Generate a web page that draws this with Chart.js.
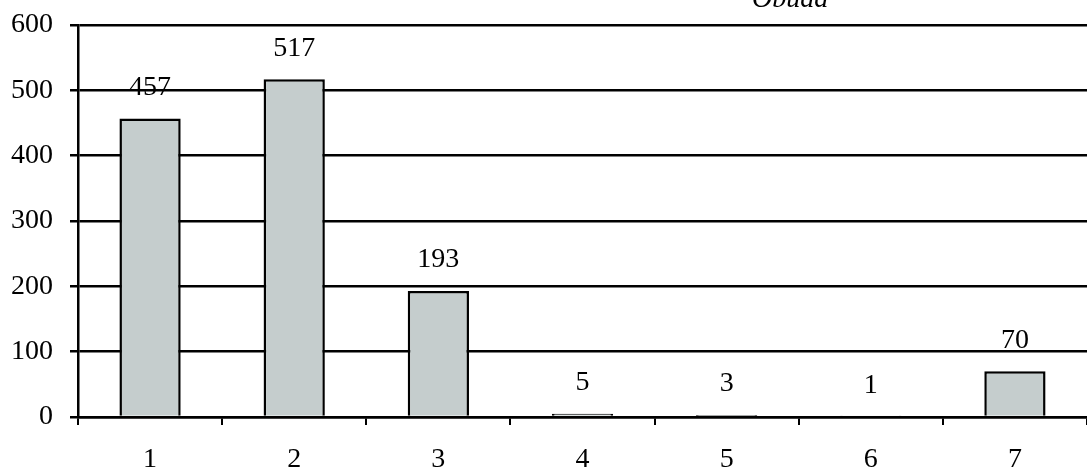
<!DOCTYPE html>
<html>
<head>
<meta charset="utf-8">
<title>Óbuda</title>
<script src="https://cdn.jsdelivr.net/npm/chart.js@4.4.1/dist/chart.umd.min.js"></script>
<style>
    html, body { margin: 0; padding: 0; background: #fff; overflow: hidden; }
    #wrap { position: relative; width: 1087px; height: 469px; overflow: hidden; }
    #title {
        position: absolute; left: 752px; top: -18px; line-height: 32px;
        font: italic 28px "Liberation Serif", serif; color: #000;
    }
    canvas { position: absolute; left: 0; top: 0; }
</style>
</head>
<body>
<div id="wrap">
    <canvas id="chart" width="1087" height="469"></canvas>
    <div id="title">Óbuda</div>
</div>
<script>
// Chart data
const categories = ['1', '2', '3', '4', '5', '6', '7'];
const values = [457, 517, 193, 5, 3, 1, 70];
const yTicks = [0, 100, 200, 300, 400, 500, 600];

const serif = '"Liberation Serif", "Times New Roman", serif';

// Draw the value above each bar
const valueLabels = {
    id: 'valueLabels',
    afterDatasetsDraw(chart) {
        const ctx = chart.ctx;
        const meta = chart.getDatasetMeta(0);
        ctx.save();
        ctx.font = '28px ' + serif;
        ctx.fillStyle = '#000';
        ctx.textAlign = 'center';
        ctx.textBaseline = 'middle';
        meta.data.forEach((bar, i) => {
            ctx.fillText(values[i], bar.x, bar.y - 31);
        });
        ctx.restore();
    }
};

new Chart(document.getElementById('chart'), {
    type: 'bar',
    data: {
        labels: categories,
        datasets: [{
            data: values,
            backgroundColor: '#c5cdcd',
            borderColor: '#000',
            borderWidth: 2.5,
            barPercentage: 0.85,
            categoryPercentage: 0.5
        }]
    },
    options: {
        responsive: false,
        animation: false,
        layout: { padding: { left: 8, right: 0, top: 25, bottom: 0 } },
        plugins: {
            legend: { display: false },
            tooltip: { enabled: false }
        },
        scales: {
            x: {
                offset: true,
                afterFit(axis) { axis.height = 52; },
                grid: {
                    offset: true,
                    drawOnChartArea: false,
                    color: '#000',
                    lineWidth: 2,
                    tickLength: 8
                },
                border: { color: '#000', width: 2.5 },
                ticks: {
                    color: '#000',
                    padding: 18,
                    font: { family: serif, size: 28 }
                }
            },
            y: {
                min: 0,
                max: 600,
                afterFit(axis) {
                    axis.width = 70;
                    axis.paddingTop = 0;
                    axis.paddingBottom = 0;
                },
                afterBuildTicks(axis) {
                    axis.ticks = yTicks.map(v => ({ value: v }));
                },
                grid: {
                    color: '#000',
                    lineWidth: 2.5,
                    tickLength: 8
                },
                border: { color: '#000', width: 2.5 },
                ticks: {
                    color: '#000',
                    padding: 17,
                    font: { family: serif, size: 28 }
                }
            }
        }
    },
    plugins: [valueLabels]
});
</script>
</body>
</html>
